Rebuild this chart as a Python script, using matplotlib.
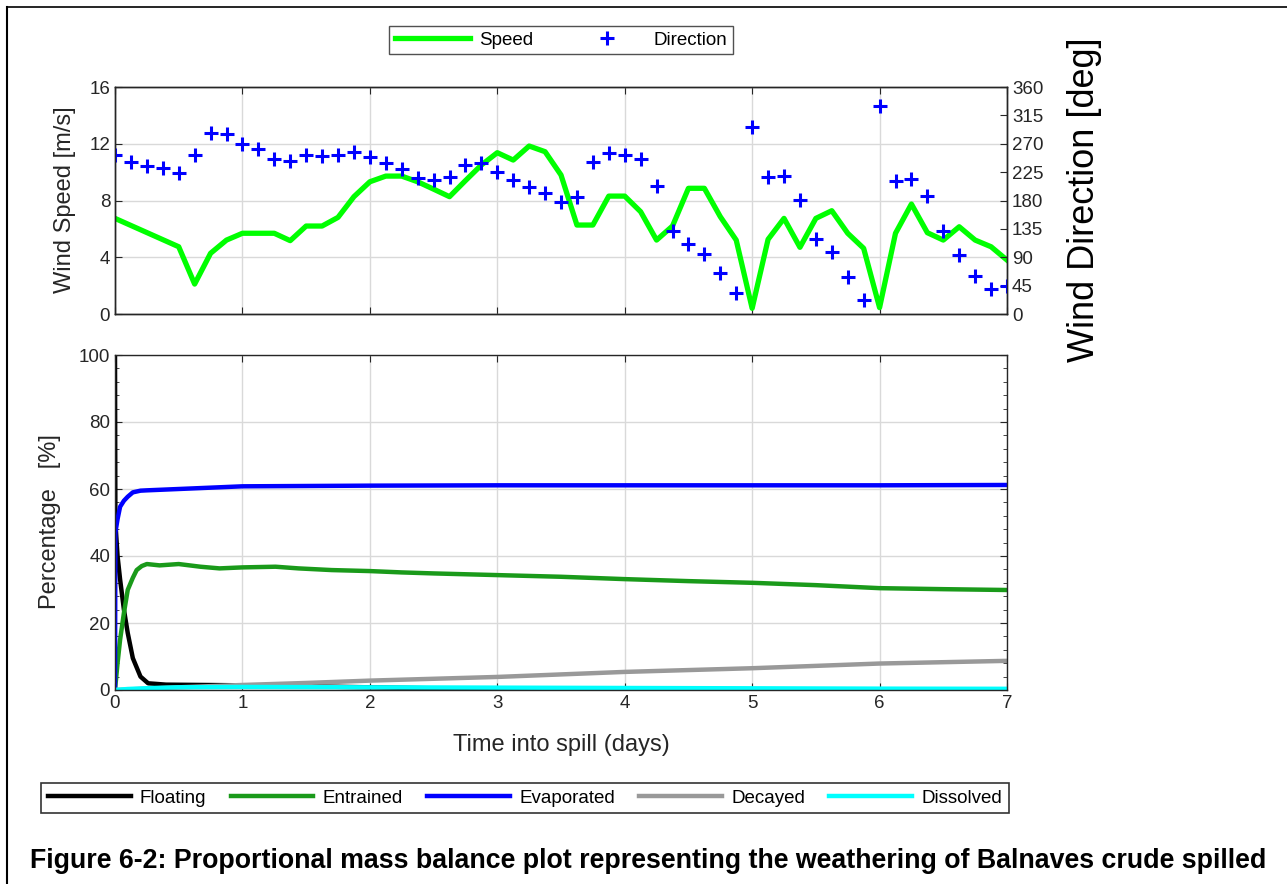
import numpy as np
import matplotlib
matplotlib.use("Agg")
import matplotlib.pyplot as plt
from matplotlib.lines import Line2D
from matplotlib.ticker import MultipleLocator

plt.rcParams['font.family'] = ['Liberation Sans', 'DejaVu Sans']

# wind record, 3-hourly
wind_t = np.arange(57) * 0.125
wind_speed = [6.74, 6.24, 5.74, 5.24, 4.74, 2.11, 4.28, 5.21, 5.69, 5.69,
              5.69, 5.17, 6.2, 6.2, 6.81, 8.27, 9.32, 9.72, 9.72, 9.32,
              8.8, 8.27, 9.4, 10.5, 11.37, 10.85, 11.84, 11.44, 9.8, 6.27,
              6.27, 8.31, 8.31, 7.21, 5.21, 6.2, 8.86, 8.86, 6.86, 5.21,
              0.4, 5.26, 6.74, 4.7, 6.74, 7.28, 5.69, 4.63, 0.45, 5.69,
              7.75, 5.73, 5.21, 6.15, 5.21, 4.74, 3.8]
wind_dir = [252, 241.5, 234.7, 231, 223, 252, 286.5, 285.5, 269.6, 261,
            246, 242, 251.6, 250.6, 252, 257.4, 249.5, 240, 229.5, 215,
            212.5, 216.8, 236.3, 239, 225.7, 212.5, 201, 191.4, 178, 186,
            240.5, 254.8, 252, 245.8, 203, 132, 110.5, 94.7, 65.5, 32.8,
            296, 216.8, 218.9, 180.8, 119, 97.8, 59.2, 22.2, 329.9, 211,
            214, 187.6, 132, 93.6, 60.3, 39.6, 44.9]

# mass balance (%)
float_t = [0, 0.003, 0.02, 0.04, 0.07, 0.1, 0.14, 0.2, 0.26, 0.4, 0.7, 1.0,
           1.5, 2, 2.5, 3, 4, 5, 6, 7]
floating = [100, 50, 40, 33, 24, 17, 9.5, 4, 2, 1.6, 1.5, 1.4, 1.1, 0.8,
            0.5, 0.3, 0.1, 0.05, 0.02, 0]
ent_t = [0, 0.02, 0.04, 0.07, 0.1, 0.14, 0.17, 0.21, 0.25, 0.35, 0.5, 0.67,
         0.82, 1, 1.26, 1.44, 1.7, 2, 2.25, 2.5, 3, 3.5, 4, 4.5, 5, 5.5, 6,
         6.5, 7]
entrained = [0, 8, 15, 23, 29.9, 33.5, 35.8, 37, 37.6, 37.2, 37.6, 36.8,
             36.3, 36.6, 36.8, 36.3, 35.8, 35.5, 35.1, 34.8, 34.3, 33.8,
             33.1, 32.5, 32.0, 31.3, 30.4, 30.1, 29.85]
evap_t = [0, 0.003, 0.02, 0.04, 0.07, 0.1, 0.14, 0.2, 0.25, 0.5, 1, 1.5, 2,
          3, 4, 5, 6, 7]
evaporated = [0, 47, 51, 54.7, 56.5, 57.7, 59, 59.5, 59.6, 60, 60.8, 60.9,
              61, 61.1, 61.1, 61.1, 61.1, 61.2]
dec_t = [0, 0.5, 1, 1.5, 2, 3, 4, 5, 6, 7]
decayed = [0, 0.8, 1.5, 2.1, 2.8, 3.9, 5.4, 6.5, 7.9, 8.7]
dis_t = [0, 0.1, 0.3, 0.5, 1, 2, 3, 4, 5, 6, 7]
dissolved = [0, 0.3, 0.6, 0.8, 0.9, 0.8, 0.7, 0.6, 0.5, 0.4, 0.35]

W, H = 1287, 884
fig = plt.figure(figsize=(W / 100, H / 100), dpi=100)

def box(x0, y0, x1, y1):
    return [x0 / W, 1 - y1 / H, (x1 - x0) / W, (y1 - y0) / H]

tick_col = '#262626'
grid_kw = dict(color='#d9d9d9', linewidth=1.0)

# ---- wind panel
ax1 = fig.add_axes(box(115, 87, 1007, 314))
ax2 = ax1.twinx()
l_speed, = ax1.plot(wind_t, wind_speed, color='#00ff00', lw=3.8, zorder=2)
l_dir, = ax2.plot(wind_t, wind_dir, ls='none', marker='+', ms=10, mew=2.2,
                  color='#0000ff')
ax1.set_xlim(0, 7)
ax1.set_ylim(0, 16)
ax2.set_ylim(0, 360)
ax1.set_yticks([0, 4, 8, 12, 16])
ax2.set_yticks(np.arange(0, 361, 45))
ax1.set_xticks(range(8))
ax1.set_xticklabels([])
ax1.grid(True, **grid_kw)
ax1.set_axisbelow(True)
ax1.tick_params(direction='in', top=True, labelsize=13.5, colors=tick_col,
                length=5)
ax2.tick_params(direction='in', labelsize=13.5, colors=tick_col, length=5)

# ---- mass balance panel
ax3 = fig.add_axes(box(115, 355, 1007, 690))
ax3.plot(float_t, floating, color='black', lw=3.2)
ax3.plot(ent_t, entrained, color='#1a9a1a', lw=3.2)
ax3.plot(evap_t, evaporated, color='#0000ff', lw=3.2)
ax3.plot(dec_t, decayed, color='#999999', lw=3.2)
ax3.plot(dis_t, dissolved, color='#00ffff', lw=3.2)
ax3.set_xlim(0, 7)
ax3.set_ylim(0, 100)
ax3.set_xticks(range(8))
ax3.set_yticks(range(0, 101, 20))
ax3.yaxis.set_minor_locator(MultipleLocator(4))
ax3.grid(True, **grid_kw)
ax3.set_axisbelow(True)
ax3.tick_params(which='both', direction='in', top=True, right=True,
                labelsize=13.5, colors=tick_col)
ax3.tick_params(which='major', length=5)
ax3.tick_params(which='minor', length=3)

for a in (ax1, ax2, ax3):
    for s in a.spines.values():
        s.set_color(tick_col)
        s.set_linewidth(1.0)

# axis labels
fig.text(65 / W, 1 - 200 / H, 'Wind Speed [m/s]', rotation=90, ha='center',
         va='center', fontsize=17, color=tick_col)
fig.text(1085 / W, 1 - 200 / H, 'Wind Direction [deg]', rotation=90,
         ha='center', va='center', fontsize=26, color='black')
fig.text(50 / W, 1 - 522 / H, 'Percentage   [%]', rotation=90, ha='center',
         va='center', fontsize=17, color=tick_col)
fig.text(561 / W, 1 - 745 / H, 'Time into spill (days)', ha='center',
         va='center', fontsize=17, color=tick_col)

# legends
leg1 = fig.legend([l_speed, l_dir], ['Speed', 'Direction'], ncol=2,
                  loc='center', bbox_to_anchor=(561 / W, 1 - 40 / H),
                  fontsize=13.5, frameon=True, fancybox=False,
                  edgecolor=tick_col, handlelength=4.0, columnspacing=1.9,
                  handletextpad=0.5, borderpad=0.3)
leg1.get_frame().set_linewidth(1.0)

names = ['Floating', 'Entrained', 'Evaporated', 'Decayed', 'Dissolved']
colors = ['black', '#1a9a1a', '#0000ff', '#999999', '#00ffff']
handles = [Line2D([], [], color=c, lw=3.2) for c in colors]
leg2 = fig.legend(handles, names, ncol=5, loc='center',
                  bbox_to_anchor=(525 / W, 1 - 798 / H), fontsize=13.5,
                  frameon=True, fancybox=False, edgecolor='black',
                  handlelength=4.4, columnspacing=1.3, borderpad=0.35,
                  handletextpad=0.5)
leg2.get_frame().set_linewidth(1.2)

# caption
fig.text(30 / W, 1 - 861 / H,
         'Figure 6-2: Proportional mass balance plot representing the '
         'weathering of Balnaves crude spilled',
         ha='left', va='center', fontsize=19.3, fontweight='bold')

# page frame
fig.add_artist(Line2D([7 / W, 7 / W], [0, 1 - 7 / H], color='black', lw=1.5))
fig.add_artist(Line2D([7 / W, 1], [1 - 7 / H, 1 - 7 / H], color='black',
                      lw=1.2))

fig.savefig('out.png', dpi=100)
